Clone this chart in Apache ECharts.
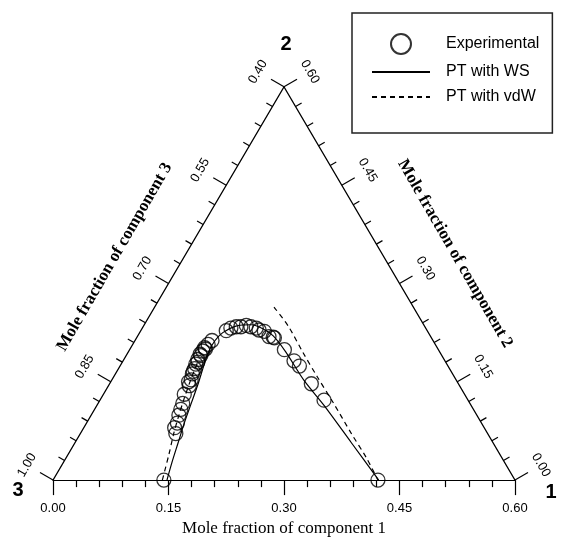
<!DOCTYPE html>
<html>
<head>
<meta charset="utf-8">
<script src="https://cdn.jsdelivr.net/npm/echarts@6/dist/echarts.min.js"></script>
<style>
  html, body { margin: 0; padding: 0; background: #fff; }
  #main { width: 564px; height: 542px; }
</style>
</head>
<body>
<div id="main"></div>
<script>
// mole fractions (x1 = component 1, x2 = component 2, x3 = 1 - x1 - x2)
const expX1 = [0.144, 0.124, 0.118, 0.118, 0.114, 0.112, 0.110, 0.105, 0.105, 0.101, 0.103, 0.100,
  0.099, 0.099, 0.097, 0.098, 0.096, 0.097, 0.095, 0.096, 0.098, 0.096, 0.098, 0.100, 0.111, 0.115,
  0.121, 0.127, 0.133, 0.140, 0.148, 0.153, 0.161, 0.171, 0.177, 0.179, 0.201, 0.222, 0.233, 0.262,
  0.291, 0.422]
const expX2 = [0.000, 0.071, 0.080, 0.087, 0.099, 0.108, 0.117, 0.131, 0.144, 0.150, 0.153, 0.162,
  0.166, 0.170, 0.177, 0.180, 0.184, 0.190, 0.192, 0.197, 0.200, 0.202, 0.207, 0.213, 0.228, 0.232,
  0.234, 0.234, 0.236, 0.234, 0.232, 0.229, 0.227, 0.219, 0.218, 0.217, 0.199, 0.182, 0.174, 0.147,
  0.122, 0.000]

// PT with WS
const wsX1 = [0.148, 0.141, 0.134, 0.127, 0.121, 0.115, 0.108, 0.104, 0.104, 0.108, 0.120, 0.139,
  0.157, 0.176, 0.204, 0.250, 0.295, 0.359, 0.423]
const wsX2 = [0.000, 0.027, 0.057, 0.087, 0.117, 0.147, 0.177, 0.198, 0.213, 0.225, 0.235, 0.237,
  0.231, 0.220, 0.196, 0.152, 0.114, 0.057, 0.000]

// PT with vdW (two branches)
const vdwLeftX1 = [0.142, 0.131, 0.121, 0.115, 0.108, 0.102, 0.098]
const vdwLeftX2 = [0.000, 0.039, 0.072, 0.095, 0.125, 0.155, 0.180]
const vdwRightX1 = [0.155, 0.188, 0.227, 0.264, 0.306, 0.351, 0.391, 0.422]
const vdwRightX2 = [0.264, 0.235, 0.195, 0.158, 0.117, 0.072, 0.033, 0.000]

const bottomLabels = ['0.00', '0.15', '0.30', '0.45', '0.60']
const leftLabels = ['1.00', '0.85', '0.70', '0.55', '0.40']
const rightLabels = ['0.00', '0.15', '0.30', '0.45', '0.60']

const SANS = 'Liberation Sans, Arial, sans-serif'
const SERIF = 'Liberation Serif, Times New Roman, serif'
const H = Math.sqrt(3) / 2

// ternary -> cartesian
function toXY(x1, x2) {
  return [x1 + x2 / 2, x2 * H]
}
function pts(a1, a2) {
  return a1.map((v, i) => toXY(v, a2[i]))
}

// ticks of the two slanted sides
const sideTicks = []
for (let i = 0; i <= 20; i++) {
  const t = i * 0.03
  const major = i % 5 === 0 ? 1 : 0
  const k = major ? i / 5 : -1
  sideTicks.push([...toXY(0, t), 0, major, k])
  sideTicks.push([...toXY(0.6 - t, t), 1, major, k])
}

function renderTick(params, api) {
  const p = api.coord([api.value(0), api.value(1)])
  const side = api.value(2)
  const major = api.value(3)
  const k = api.value(4)
  const nx = side === 0 ? -0.866 : 0.866
  const ny = -0.5
  const len = major ? 15 : 7
  const children = [{
    type: 'line',
    shape: { x1: p[0], y1: p[1], x2: p[0] + nx * len, y2: p[1] + ny * len },
    style: { stroke: '#000', lineWidth: 1.2 },
  }]
  if (major) {
    children.push({
      type: 'text',
      x: p[0] + nx * 30,
      y: p[1] + ny * 30,
      rotation: side === 0 ? Math.PI / 3 : -Math.PI / 3,
      style: {
        text: (side === 0 ? leftLabels : rightLabels)[k],
        fill: '#000', fontSize: 13, fontFamily: SANS,
        align: 'center', verticalAlign: 'middle',
      },
    })
  }
  return { type: 'group', children }
}

// side titles and vertex numbers
const annotations = [
  [...toXY(0, 0.3), 0],
  [...toXY(0.3, 0.3), 1],
  [...toXY(0, 0), 2],
  [...toXY(0.6, 0), 3],
  [...toXY(0, 0.6), 4],
]
function renderNote(params, api) {
  const p = api.coord([api.value(0), api.value(1)])
  const kind = api.value(2)
  if (kind === 0 || kind === 1) {
    const nx = kind === 0 ? -0.866 : 0.866
    const d = kind === 0 ? 60 : 63
    // small shift along the side, towards the bottom
    const s = kind === 0 ? -4 : 2
    return {
      type: 'text',
      x: p[0] + nx * d + (kind === 0 ? 0.5 : 0.5) * s,
      y: p[1] - 0.5 * d - 0.866 * s * (kind === 0 ? 1 : -1),
      rotation: kind === 0 ? Math.PI / 3 : -Math.PI / 3,
      style: {
        text: 'Mole fraction of component ' + (kind === 0 ? '3' : '2'),
        fill: '#000', fontSize: 17, fontWeight: 'bold', fontFamily: SERIF,
        align: 'center', verticalAlign: 'middle',
      },
    }
  }
  const off = { 2: [-35, 10, '3'], 3: [36, 12, '1'], 4: [2, -42, '2'] }[kind]
  return {
    type: 'text',
    x: p[0] + off[0],
    y: p[1] + off[1],
    style: {
      text: off[2], fill: '#000', fontSize: 20, fontWeight: 'bold', fontFamily: SANS,
      align: 'center', verticalAlign: 'middle',
    },
  }
}

const chart = echarts.init(document.getElementById('main'))

const option = {
  animation: false,
  backgroundColor: '#fff',
  grid: { left: 53, right: 49, top: 26, bottom: 54 },
  legend: {
    data: [
      { name: 'Experimental', icon: 'circle' },
      { name: 'PT with WS', itemStyle: { opacity: 0 } },
      { name: 'PT with vdW', itemStyle: { opacity: 0 } },
    ],
    orient: 'vertical',
    left: 352,
    top: 13,
    itemWidth: 58,
    itemHeight: 20,
    itemGap: 9,
    padding: [20, 13, 28, 19],
    borderColor: '#222',
    borderWidth: 1.5,
    backgroundColor: '#fff',
    selectedMode: false,
    textStyle: { color: '#000', fontSize: 16, fontFamily: SANS, padding: [0, 0, 0, 11] },
  },
  xAxis: {
    type: 'value',
    min: 0,
    max: 0.6,
    interval: 0.15,
    name: 'Mole fraction of component 1',
    nameLocation: 'middle',
    nameGap: 39,
    nameTextStyle: { color: '#000', fontSize: 17, fontFamily: SERIF },
    axisLine: { lineStyle: { color: '#000', width: 1.2 } },
    axisTick: { length: 15, lineStyle: { color: '#000', width: 1.2 } },
    minorTick: { show: true, splitNumber: 5, length: 7, lineStyle: { color: '#000', width: 1.2 } },
    splitLine: { show: false },
    axisLabel: {
      margin: 22,
      color: '#000',
      fontSize: 13,
      fontFamily: SANS,
      showMinLabel: true,
      showMaxLabel: true,
      formatter: (v) => bottomLabels[Math.round(v / 0.15)],
    },
  },
  yAxis: { type: 'value', min: 0, max: 0.6, show: false },
  series: [
    {
      name: 'frame',
      type: 'line',
      data: [toXY(0, 0), toXY(0, 0.6), toXY(0.6, 0)],
      symbol: 'none',
      silent: true,
      lineStyle: { color: '#000', width: 1.2 },
    },
    {
      name: 'sideTicks',
      type: 'custom',
      data: sideTicks,
      renderItem: renderTick,
      clip: false,
      silent: true,
    },
    {
      name: 'notes',
      type: 'custom',
      data: annotations,
      renderItem: renderNote,
      clip: false,
      silent: true,
    },
    {
      name: 'PT with WS',
      type: 'line',
      data: pts(wsX1, wsX2),
      smooth: 0.3,
      symbol: 'none',
      lineStyle: { color: '#000', width: 1.2 },
      itemStyle: { color: '#000' },
    },
    {
      name: 'PT with vdW',
      type: 'line',
      data: pts(vdwLeftX1, vdwLeftX2),
      smooth: 0.3,
      symbol: 'none',
      lineStyle: { color: '#000', width: 1.2, type: [5, 4] },
      itemStyle: { color: '#000' },
    },
    {
      name: 'PT with vdW',
      type: 'line',
      data: pts(vdwRightX1, vdwRightX2),
      smooth: 0.3,
      symbol: 'none',
      lineStyle: { color: '#000', width: 1.2, type: [5, 4] },
      itemStyle: { color: '#000' },
    },
    {
      name: 'Experimental',
      type: 'scatter',
      data: pts(expX1, expX2),
      symbol: 'circle',
      symbolSize: 14,
      itemStyle: { color: 'rgba(255,255,255,0)', borderColor: '#000', borderWidth: 1.3 },
      z: 5,
    },
  ],
}

chart.setOption(option)
</script>
</body>
</html>
